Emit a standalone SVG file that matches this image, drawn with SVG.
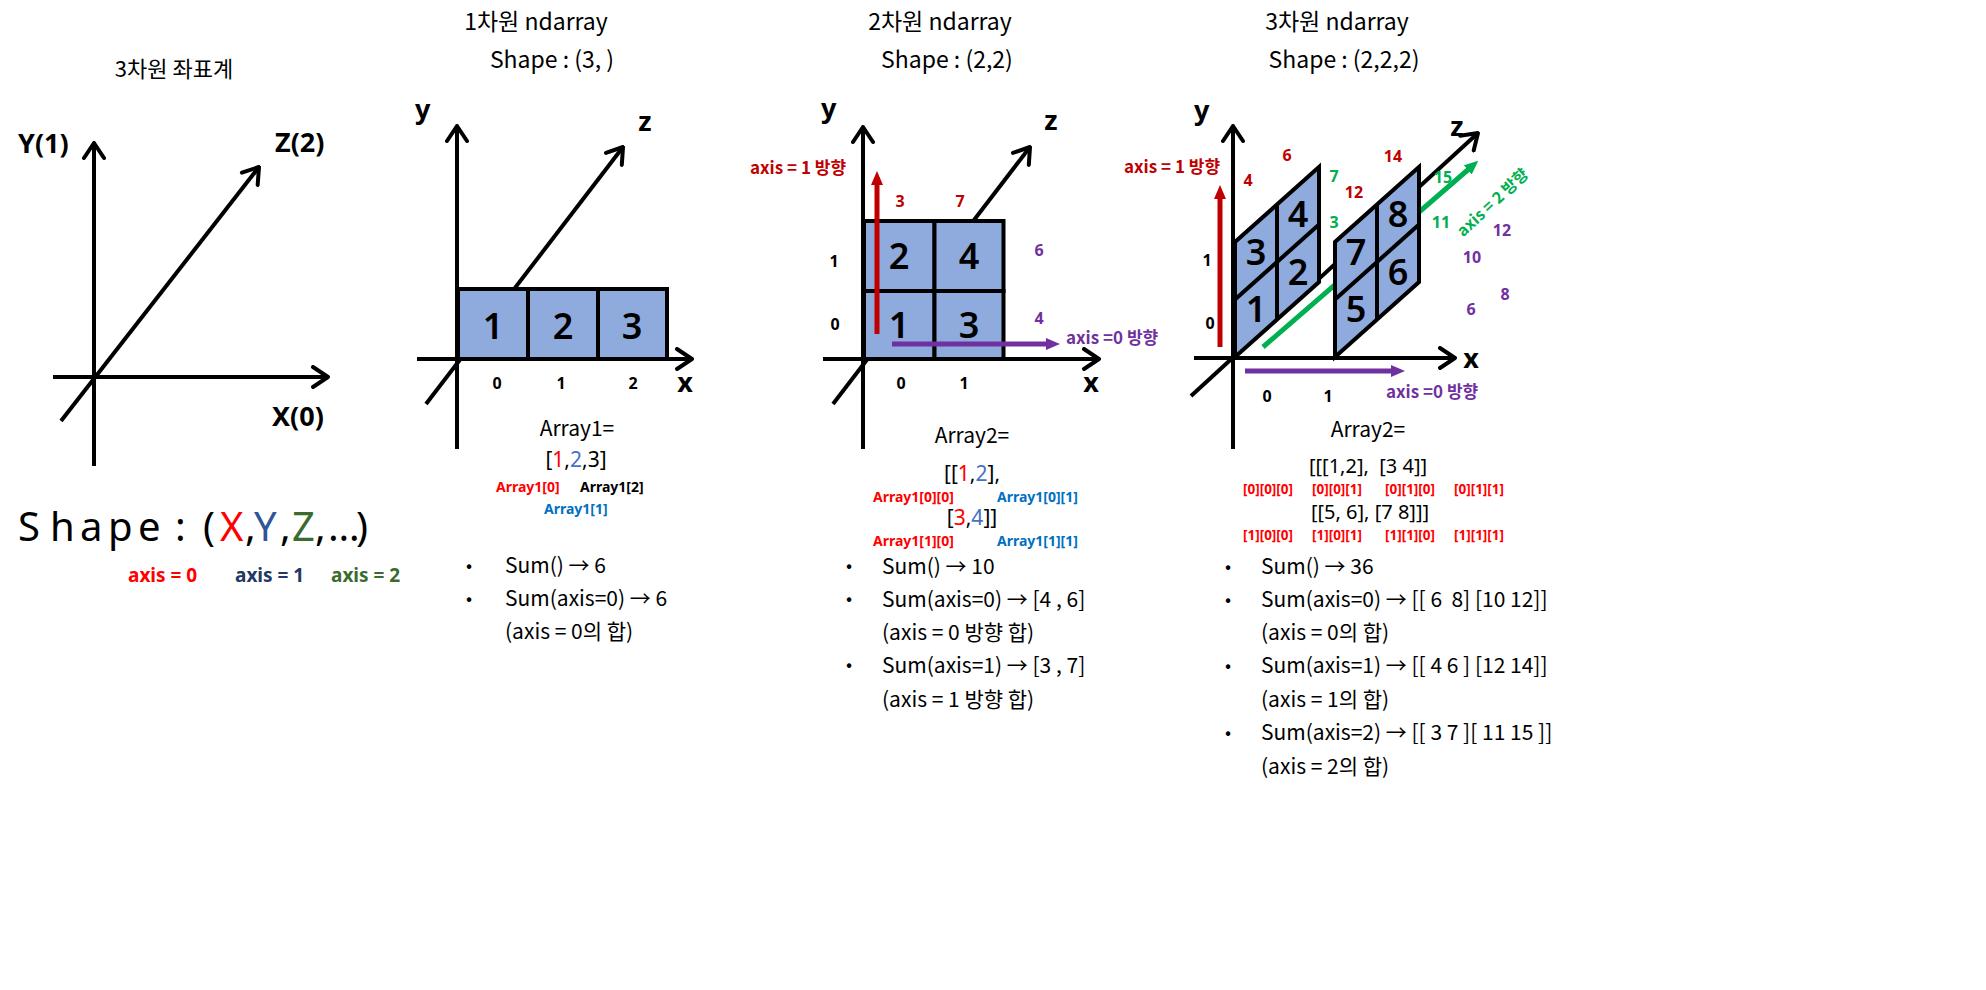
<svg xmlns="http://www.w3.org/2000/svg" width="1986" height="990" viewBox="0 0 1986 990">
<style>
text { font-family: "Noto Sans CJK KR", "Noto Sans", sans-serif; fill: #000; }
.pre { white-space: pre; }
.ttl { font-size: 23px; text-anchor: middle; }
.sum { font-size: 21px; }
.brk { font-family: "Noto Sans", sans-serif; font-size: 21px; text-anchor: middle; }
.bul { font-size: 18px; }
.ax { stroke: #000; stroke-width: 4; fill: none; }
.axa { stroke: #000; stroke-width: 4; fill: none; marker-end: url(#chev); }
.big { font-family: "Noto Sans", sans-serif; font-size: 27px; font-weight: 700; }
.axl { font-family: "Noto Sans", sans-serif; font-size: 27px; font-weight: 700; text-anchor: middle; }
.tick { font-family: "Noto Sans", sans-serif; font-size: 16px; font-weight: 700; text-anchor: middle; }
.cell { fill: #8FAADC; stroke: #000; stroke-width: 4; stroke-linejoin: miter; }
.num { font-family: "Noto Sans", sans-serif; font-size: 36px; font-weight: 600; text-anchor: middle; }
.sm { font-family: "Noto Sans", sans-serif; font-size: 14px; font-weight: 700; }
.idx { font-family: "Noto Sans", sans-serif; font-size: 13.5px; font-weight: 700; fill: #FF0000; }
.lab { font-size: 17px; font-weight: 700; }
.labm { font-family: "Noto Sans", sans-serif; font-size: 16px; font-weight: 700; text-anchor: middle; }
.axn { font-family: "Noto Sans", sans-serif; font-size: 19px; font-weight: 700; }
.shp { font-family: "Noto Sans", sans-serif; font-size: 40px; }
.red { fill: #FF0000; }
.dred { fill: #C00000; }
.blu { fill: #0070C0; }
.lblu { fill: #4472C4; }
.pur { fill: #7030A0; }
.grn { fill: #00B050; }
.navy { fill: #203864; }
.olive { fill: #3B6B2E; }
.mblu { fill: #2F5597; }
</style>
<defs>
<marker id="chev" viewBox="0 0 20 24" refX="18" refY="12" markerWidth="20" markerHeight="24" markerUnits="userSpaceOnUse" orient="auto">
<path d="M3,2 L18,12 L3,22" fill="none" stroke="#000" stroke-width="4" stroke-linecap="round" stroke-linejoin="round"/>
</marker>
<marker id="triR" viewBox="0 0 14 12" refX="3" refY="6" markerWidth="14" markerHeight="12" markerUnits="userSpaceOnUse" orient="auto">
<path d="M0,0 L14,6 L0,12 z" fill="#C00000"/>
</marker>
<marker id="triP" viewBox="0 0 14 12" refX="3" refY="6" markerWidth="14" markerHeight="12" markerUnits="userSpaceOnUse" orient="auto">
<path d="M0,0 L14,6 L0,12 z" fill="#7030A0"/>
</marker>
<marker id="triG" viewBox="0 0 14 12" refX="3" refY="6" markerWidth="14" markerHeight="12" markerUnits="userSpaceOnUse" orient="auto">
<path d="M0,0 L14,6 L0,12 z" fill="#00B050"/>
</marker>
</defs>
<rect x="0" y="0" width="1986" height="990" fill="#FFFFFF"/>

<!-- ===== Panel 0: 3D coordinate system ===== -->
<g id="coord-system">
<text x="174" y="77" class="ttl" style="font-size:22px">3차원 좌표계</text>
<text x="18" y="153" class="big">Y(1)</text>
<text x="275" y="152" class="big">Z(2)</text>
<text x="272" y="426" class="big">X(0)</text>
<text y="541" class="shp"><tspan x="18 50 80 108 138">Shape</tspan><tspan x="175">:</tspan><tspan x="203">(</tspan><tspan x="220" class="red">X</tspan><tspan x="245">,</tspan><tspan x="254" class="mblu">Y</tspan><tspan x="280">,</tspan><tspan x="292" class="olive">Z</tspan><tspan x="315">,</tspan><tspan x="328">…</tspan><tspan x="356">)</tspan></text>
<text x="128" y="582" class="axn red">axis = 0</text>
<text x="235" y="582" class="axn navy">axis = 1</text>
<text x="331" y="582" class="axn olive">axis = 2</text>
</g>
<g id="coord-system-axes">
<line x1="94" y1="466" x2="94" y2="143" class="axa"/>
<line x1="53" y1="377" x2="328" y2="377" class="axa"/>
<line x1="61" y1="421" x2="259" y2="167" class="axa"/>
</g>

<!-- ===== Panel 1: 1D ndarray ===== -->
<g id="nd1-axes">
<line x1="457" y1="449" x2="457" y2="126" class="axa"/>
<line x1="417" y1="359" x2="692" y2="359" class="axa"/>
<line x1="426" y1="404" x2="623" y2="147" class="axa"/>
</g>
<g id="nd1">
<text x="536" y="30" class="ttl">1차원 ndarray</text>
<text x="552" y="68" class="ttl">Shape : (3, )</text>
<text x="415" y="119" class="big">y</text>
<text x="645" y="131" class="axl">z</text>
<text x="685" y="392" class="axl">x</text>
<rect x="458" y="289" width="70" height="70" class="cell"/>
<rect x="528" y="289" width="70" height="70" class="cell"/>
<rect x="598" y="289" width="69" height="70" class="cell"/>
<text x="493" y="339" class="num">1</text>
<text x="563" y="339" class="num">2</text>
<text x="632" y="339" class="num">3</text>
<text x="497" y="389" class="tick">0</text>
<text x="561" y="389" class="tick">1</text>
<text x="633" y="389" class="tick">2</text>
<text x="577" y="436" class="sum" text-anchor="middle">Array1=</text>
<text x="576" y="467" class="brk">[<tspan class="red">1</tspan>,<tspan class="lblu">2</tspan>,3]</text>
<text x="496" y="492" class="sm red">Array1[0]</text>
<text x="580" y="492" class="sm">Array1[2]</text>
<text x="544" y="514" class="sm blu">Array1[1]</text>
<text x="466" y="572" class="bul">•</text>
<text x="466" y="605" class="bul">•</text>
<text x="505" y="573" class="sum">Sum() → 6</text>
<text x="505" y="606" class="sum">Sum(axis=0) → 6</text>
<text x="505" y="639" class="sum">(axis = 0의 합)</text>
</g>

<!-- ===== Panel 2: 2D ndarray ===== -->
<g id="nd2-axes">
<line x1="863" y1="449" x2="863" y2="127" class="axa"/>
<line x1="823" y1="359" x2="1099" y2="359" class="axa"/>
<line x1="833" y1="404" x2="1030" y2="147" class="axa"/>
</g>
<g id="nd2">
<text x="940" y="30" class="ttl">2차원 ndarray</text>
<text x="947" y="68" class="ttl">Shape : (2,2)</text>
<text x="821" y="118" class="big">y</text>
<text x="1051" y="130" class="axl">z</text>
<text x="1091" y="392" class="axl">x</text>
<rect x="864" y="221" width="70.5" height="70" class="cell"/>
<rect x="934.5" y="221" width="69" height="70" class="cell"/>
<rect x="864" y="291" width="70.5" height="68" class="cell"/>
<rect x="934.5" y="291" width="69" height="68" class="cell"/>
<text x="899" y="269" class="num">2</text>
<text x="969" y="269" class="num">4</text>
<text x="899" y="338" class="num">1</text>
<text x="969" y="338" class="num">3</text>
<text x="834" y="267" class="tick">1</text>
<text x="835" y="330" class="tick">0</text>
<text x="901" y="389" class="tick">0</text>
<text x="964" y="389" class="tick">1</text>
<text x="900" y="207" class="labm dred">3</text>
<text x="960" y="207" class="labm dred">7</text>
<text x="1039" y="256" class="labm pur">6</text>
<text x="1039" y="324" class="labm pur">4</text>
<text x="750" y="174" class="lab dred pre">axis = 1 방향</text>
<text x="1066" y="344" class="lab pur pre">axis =0 방향</text>
<text x="972" y="443" class="sum" text-anchor="middle">Array2=</text>
<text x="972" y="481" class="brk">[[<tspan class="red">1</tspan>,<tspan class="lblu">2</tspan>],</text>
<text x="873" y="502" class="sm red">Array1[0][0]</text>
<text x="997" y="502" class="sm blu">Array1[0][1]</text>
<text x="972" y="525" class="brk">[<tspan class="red">3</tspan>,<tspan class="lblu">4</tspan>]]</text>
<text x="873" y="546" class="sm red">Array1[1][0]</text>
<text x="997" y="546" class="sm blu">Array1[1][1]</text>
<text x="846" y="572" class="bul">•</text>
<text x="846" y="605" class="bul">•</text>
<text x="846" y="671" class="bul">•</text>
<text x="882" y="574" class="sum">Sum() → 10</text>
<text x="882" y="607" class="sum">Sum(axis=0) → [4 , 6]</text>
<text x="882" y="640" class="sum">(axis = 0 방향 합)</text>
<text x="882" y="673" class="sum">Sum(axis=1) → [3 , 7]</text>
<text x="882" y="707" class="sum">(axis = 1 방향 합)</text>
</g>
<g id="nd2-arrows">
<line x1="877" y1="334" x2="877" y2="182" stroke="#C00000" stroke-width="5" marker-end="url(#triR)"/>
<line x1="892" y1="344" x2="1049" y2="344" stroke="#7030A0" stroke-width="5" marker-end="url(#triP)"/>
</g>

<!-- ===== Panel 3: 3D ndarray ===== -->
<g id="nd3-axes">
<line x1="1233" y1="449" x2="1233" y2="126" class="axa"/>
<line x1="1194" y1="358" x2="1455" y2="358" class="axa"/>
<line x1="1191" y1="396" x2="1478" y2="133" class="axa"/>
<line x1="1263" y1="347" x2="1470" y2="168" stroke="#00B050" stroke-width="5" marker-end="url(#triG)"/>
</g>
<g id="nd3">
<text x="1337" y="30" class="ttl">3차원 ndarray</text>
<text x="1344" y="68" class="ttl">Shape : (2,2,2)</text>
<text x="1194" y="120" class="big">y</text>
<text x="1457" y="136" class="axl">z</text>
<text x="1471" y="368" class="axl">x</text>
<g id="slab0">
<polygon points="1235,357 1319,282 1319,167 1235,242" class="cell"/>
<line x1="1235" y1="299.5" x2="1319" y2="224.5" class="ax"/>
<line x1="1277" y1="319.5" x2="1277" y2="204.5" class="ax"/>
<text x="1256" y="322" class="num">1</text>
<text x="1256" y="265" class="num">3</text>
<text x="1298" y="285" class="num">2</text>
<text x="1298" y="227" class="num">4</text>
</g>
<g id="slab1">
<polygon points="1335,357 1419,282 1419,167 1335,242" class="cell"/>
<line x1="1335" y1="299.5" x2="1419" y2="224.5" class="ax"/>
<line x1="1377" y1="319.5" x2="1377" y2="204.5" class="ax"/>
<text x="1356" y="322" class="num">5</text>
<text x="1356" y="265" class="num">7</text>
<text x="1398" y="285" class="num">6</text>
<text x="1398" y="227" class="num">8</text>
</g>
<text x="1207" y="266" class="tick">1</text>
<text x="1210" y="329" class="tick">0</text>
<text x="1267" y="402" class="tick">0</text>
<text x="1328" y="402" class="tick">1</text>
<text x="1287" y="161" class="labm dred">6</text>
<text x="1248" y="186" class="labm dred">4</text>
<text x="1393" y="162" class="labm dred">14</text>
<text x="1354" y="198" class="labm dred">12</text>
<text x="1334" y="182" class="labm grn">7</text>
<text x="1334" y="228" class="labm grn">3</text>
<text x="1443" y="183" class="labm grn">15</text>
<text x="1441" y="228" class="labm grn">11</text>
<text x="1502" y="236" class="labm pur">12</text>
<text x="1472" y="263" class="labm pur">10</text>
<text x="1505" y="300" class="labm pur">8</text>
<text x="1471" y="315" class="labm pur">6</text>
<text x="1124" y="173" class="lab dred pre">axis = 1 방향</text>
<text x="1386" y="398" class="lab pur pre">axis =0 방향</text>
<text transform="translate(1493,203) rotate(-43)" y="5" class="lab grn pre" text-anchor="middle" style="font-size:16px">axis = 2 방향</text>
<text x="1368" y="437" class="sum" text-anchor="middle">Array2=</text>
<text x="1368" y="473" class="brk pre" style="font-size:20px">[[[1,2],  [3 4]]</text>
<text y="494" class="idx"><tspan x="1243">[0][0][0]</tspan><tspan x="1312">[0][0][1]</tspan><tspan x="1385">[0][1][0]</tspan><tspan x="1454">[0][1][1]</tspan></text>
<text x="1370" y="519" class="brk pre" style="font-size:20px">[[5, 6], [7 8]]]</text>
<text y="540" class="idx"><tspan x="1243">[1][0][0]</tspan><tspan x="1312">[1][0][1]</tspan><tspan x="1385">[1][1][0]</tspan><tspan x="1454">[1][1][1]</tspan></text>
<text x="1225" y="573" class="bul">•</text>
<text x="1225" y="606" class="bul">•</text>
<text x="1225" y="672" class="bul">•</text>
<text x="1225" y="739" class="bul">•</text>
<text x="1261" y="574" class="sum">Sum() → 36</text>
<text x="1261" y="607" class="sum pre">Sum(axis=0) → [[ 6  8] [10 12]]</text>
<text x="1261" y="640" class="sum">(axis = 0의 합)</text>
<text x="1261" y="673" class="sum pre">Sum(axis=1) → [[ 4 6 ] [12 14]]</text>
<text x="1261" y="707" class="sum">(axis = 1의 합)</text>
<text x="1261" y="740" class="sum pre">Sum(axis=2) → [[ 3 7 ][ 11 15 ]]</text>
<text x="1261" y="774" class="sum">(axis = 2의 합)</text>
</g>
<g id="nd3-arrows">
<line x1="1220" y1="347" x2="1220" y2="196" stroke="#C00000" stroke-width="5" marker-end="url(#triR)"/>
<line x1="1245" y1="371" x2="1394" y2="371" stroke="#7030A0" stroke-width="5" marker-end="url(#triP)"/>
</g>
</svg>
